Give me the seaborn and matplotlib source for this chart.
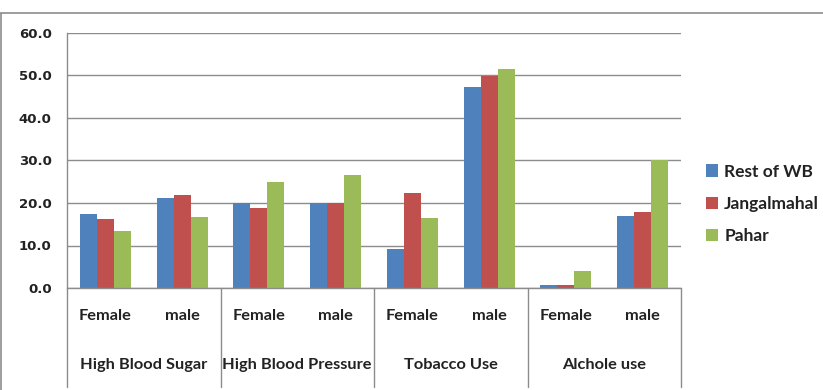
import matplotlib
matplotlib.use("Agg")
import matplotlib.pyplot as plt
from matplotlib.lines import Line2D
from matplotlib.patches import Patch
import seaborn as sns
import pandas as pd

# Survey figures (%) by risk factor and sex
groups = ["High Blood Sugar", "High Blood Pressure", "Tobacco Use", "Alchole use"]
sexes = ["Female", "male"]
regions = ["Rest of WB", "Jangalmahal", "Pahar"]
rest_of_wb = [17.5, 21.2, 19.9, 20.0, 9.1, 47.2, 0.8, 16.9]
jangalmahal = [16.2, 22.0, 18.9, 20.0, 22.3, 49.8, 0.8, 18.0]
pahar = [13.4, 16.6, 24.9, 26.5, 16.4, 51.5, 4.1, 30.2]
colors = ["#4F81BD", "#C0504D", "#9BBB59"]

rows = []
for reg, vals in zip(regions, [rest_of_wb, jangalmahal, pahar]):
    for i, v in enumerate(vals):
        rows.append({"slot": i, "region": reg, "value": v})
df = pd.DataFrame(rows)

sns.set_theme(style="white")
plt.rcParams["font.family"] = ["Lato", "DejaVu Sans"]

fig = plt.figure(figsize=(8.23, 3.90), dpi=100)
W, H = 823, 390
ax = fig.add_axes([67 / W, (H - 288) / H, (681 - 67) / W, (288 - 33) / H])

sns.barplot(data=df, x="slot", y="value", hue="region", hue_order=regions,
            palette=colors, width=0.665, saturation=1, ax=ax, legend=False,
            order=list(range(8)), zorder=3, errorbar=None)
for p in ax.patches:
    p.set_edgecolor("none")

ax.set_ylim(0, 60)
ax.set_xlim(-0.5, 7.5)
ax.set_yticks(range(0, 61, 10))
ax.set_yticklabels([f"{t:.1f}" for t in range(0, 61, 10)],
                   fontfamily="DejaVu Sans", fontweight="bold", fontsize=9.5, color="#222222")
ax.tick_params(axis="y", length=0, pad=11)
ax.set_xticks([])
ax.set_xlabel("")
ax.set_ylabel("")
ax.yaxis.grid(True, color="#8c8c8c", linewidth=1.0, zorder=0)
ax.set_axisbelow(True)
for side in ["top", "right", "bottom"]:
    ax.spines[side].set_visible(False)
ax.spines["left"].set_color("#8c8c8c")
ax.spines["left"].set_linewidth(1.0)

# Two-level category axis
trans = ax.get_xaxis_transform()
depth = -(387 - 288) / 255
for b in [-0.5, 1.5, 3.5, 5.5, 7.5]:
    ax.add_line(Line2D([b, b], [0, depth], transform=trans, color="#8c8c8c",
                       linewidth=1.0, clip_on=False))
ax.add_line(Line2D([-0.5, 7.5], [0, 0], transform=trans, color="#8c8c8c",
                   linewidth=1.0, clip_on=False, zorder=4))
for i in range(8):
    ax.text(i, -(316 - 288) / 255, sexes[i % 2], transform=trans, ha="center",
            va="center", fontsize=11.8, fontweight="bold", color="#222222")
for g, name in enumerate(groups):
    ax.text(2 * g + 0.5, -(365 - 288) / 255, name, transform=trans, ha="center",
            va="center", fontsize=11.8, fontweight="bold", color="#222222")

handles = [Patch(facecolor=c, edgecolor="none", label=r) for c, r in zip(colors, regions)]
fig.legend(handles=handles, loc="center left", bbox_to_anchor=(706 / W, 1 - 204 / H),
           frameon=False, handlelength=0.7, handleheight=0.7,
           handletextpad=0.35, labelspacing=0.95, borderaxespad=0, borderpad=0,
           labelcolor="#222222", prop={"weight": "bold", "size": 12.5})

# Chart area border
fig.add_artist(Line2D([1 / W, 1], [1 - 13 / H, 1 - 13 / H], transform=fig.transFigure,
                      color="#8c8c8c", linewidth=1.2))
fig.add_artist(Line2D([1 / W, 1 / W], [0, 1 - 13 / H], transform=fig.transFigure,
                      color="#8c8c8c", linewidth=1.2))

fig.savefig("out.png", dpi=100)
